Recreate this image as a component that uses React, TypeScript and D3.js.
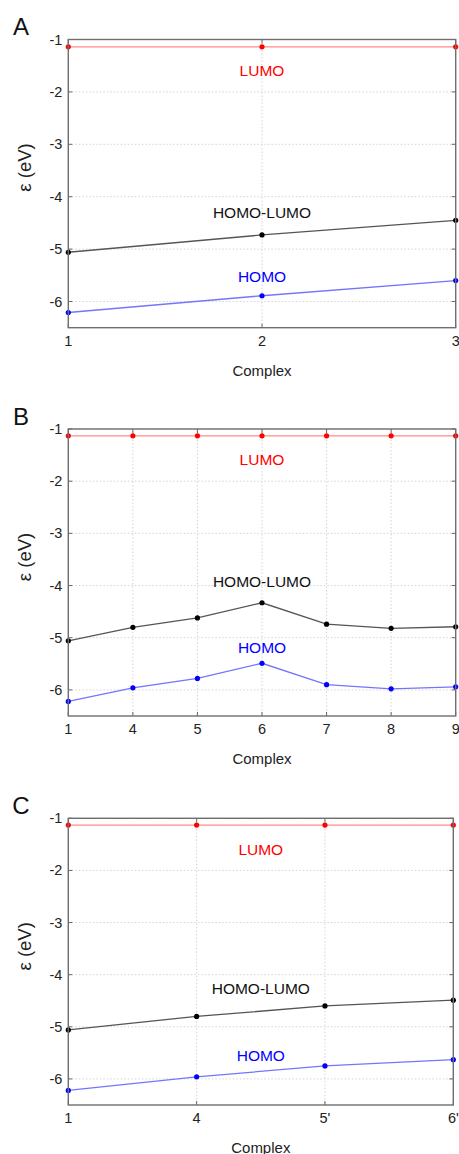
import React from "react";
import * as d3 from "d3";

const W = 459,
  H = 1154;

// panel A
const catsA = ["1", "2", "3"];
const lumoA = [-1.14, -1.14, -1.14];
const gapA = [-5.06, -4.73, -4.45];
const homoA = [-6.21, -5.89, -5.6];

// panel B
const catsB = ["1", "4", "5", "6", "7", "8", "9"];
const lumoB = [-1.13, -1.13, -1.13, -1.13, -1.13, -1.13, -1.13];
const gapB = [-5.06, -4.8, -4.62, -4.33, -4.74, -4.82, -4.79];
const homoB = [-6.22, -5.96, -5.78, -5.49, -5.9, -5.98, -5.94];

// panel C
const catsC = ["1", "4", "5'", "6'"];
const lumoC = [-1.13, -1.13, -1.13, -1.13];
const gapC = [-5.06, -4.8, -4.6, -4.49];
const homoC = [-6.22, -5.96, -5.75, -5.63];

const yTicks = [-1, -2, -3, -4, -5, -6];

const panels = [
  { letter: "A", cats: catsA, lumo: lumoA, gap: gapA, homo: homoA, top: 39.5, bottom: 327.7, right: 455.7, lab: [-1.59, -4.31, -5.53] },
  { letter: "B", cats: catsB, lumo: lumoB, gap: gapB, homo: homoB, top: 429, bottom: 716, right: 455.7, lab: [-1.59, -3.93, -5.18] },
  { letter: "C", cats: catsC, lumo: lumoC, gap: gapC, homo: homoC, top: 818.3, bottom: 1105, right: 453.3, lab: [-1.59, -4.27, -5.55] },
];

const left = 68.3;
const font = "Liberation Sans, Arial, sans-serif";

const Panel = ({ p }: { p: any }) => {
  const x = d3.scalePoint<string>().domain(p.cats).range([left, p.right]).padding(0);
  const y = d3.scaleLinear().domain([-6.5, -1]).range([p.bottom, p.top]);
  const line = d3
    .line<number>()
    .x((_, i) => x(p.cats[i]) as number)
    .y(d => y(d));
  const cx = (left + p.right) / 2;
  const series = [
    { vals: p.lumo, line: "#ff8a8a", dot: "#ff0000", name: "LUMO", tc: "#ff0000" },
    { vals: p.gap, line: "#555", dot: "#000", name: "HOMO-LUMO", tc: "#111" },
    { vals: p.homo, line: "#7474ff", dot: "#0000ff", name: "HOMO", tc: "#0000ff" },
  ];
  return (
    <g fontFamily={font}>
      {/* grid */}
      {p.cats.map((c: string) => (
        <line key={"gx" + c} x1={x(c)} x2={x(c)} y1={p.top} y2={p.bottom} stroke="#d4d4d4" strokeDasharray="1.5,2" />
      ))}
      {yTicks.map(t => (
        <line key={"gy" + t} x1={left} x2={p.right} y1={y(t)} y2={y(t)} stroke="#d4d4d4" strokeDasharray="1.5,2" />
      ))}
      {/* ticks */}
      {p.cats.map((c: string) => (
        <g key={"tx" + c} stroke="#666" strokeWidth={1}>
          <line x1={x(c)} x2={x(c)} y1={p.top} y2={p.top + 4} />
          <line x1={x(c)} x2={x(c)} y1={p.bottom} y2={p.bottom - 4} />
        </g>
      ))}
      {yTicks.map(t => (
        <g key={"ty" + t} stroke="#666" strokeWidth={1}>
          <line x1={left} x2={left + 4} y1={y(t)} y2={y(t)} />
          <line x1={p.right} x2={p.right - 4} y1={y(t)} y2={y(t)} />
        </g>
      ))}
      {/* series */}
      {series.map(s => (
        <g key={s.name}>
          <path d={line(s.vals) as string} fill="none" stroke={s.line} strokeWidth={1.3} />
          {s.vals.map((v: number, i: number) => (
            <circle key={i} cx={x(p.cats[i])} cy={y(v)} r={2.6} fill={s.dot} />
          ))}
        </g>
      ))}
      {/* frame */}
      <rect x={left} y={p.top} width={p.right - left} height={p.bottom - p.top} fill="none" stroke="#6e6e6e" strokeWidth={1.4} />
      {/* labels */}
      {series.map((s, i) => (
        <text key={"l" + s.name} x={cx} y={y(p.lab[i])} fill={s.tc} fontSize={15.5} textAnchor="middle" dominantBaseline="central">
          {s.name}
        </text>
      ))}
      {yTicks.map(t => (
        <text key={"yl" + t} x={left - 6} y={y(t)} fontSize={14.5} textAnchor="end" dominantBaseline="central" fill="#222">
          {t}
        </text>
      ))}
      {p.cats.map((c: string) => (
        <text key={"xl" + c} x={x(c)} y={p.bottom + 13} fontSize={14.5} textAnchor="middle" dominantBaseline="central" fill="#222">
          {c}
        </text>
      ))}
      <text x={cx} y={p.bottom + 42.5} fontSize={15} textAnchor="middle" dominantBaseline="central" fill="#222">
        Complex
      </text>
      <text
        transform={`translate(24,${p.top + 128}) rotate(-90)`}
        fontSize={18.5}
        textAnchor="middle"
        dominantBaseline="central"
        fill="#222"
      >
        ε (eV)
      </text>
      <text x={21} y={p.top - 13} fontSize={24} textAnchor="middle" dominantBaseline="central" fill="#111">
        {p.letter}
      </text>
    </g>
  );
};

export default function App() {
  return (
    <svg width={W} height={H} style={{ position: "absolute", left: 0, top: 0, background: "#fff" }}>
      <rect width={W} height={H} fill="#fff" />
      {panels.map(p => (
        <Panel key={p.letter} p={p} />
      ))}
    </svg>
  );
}
